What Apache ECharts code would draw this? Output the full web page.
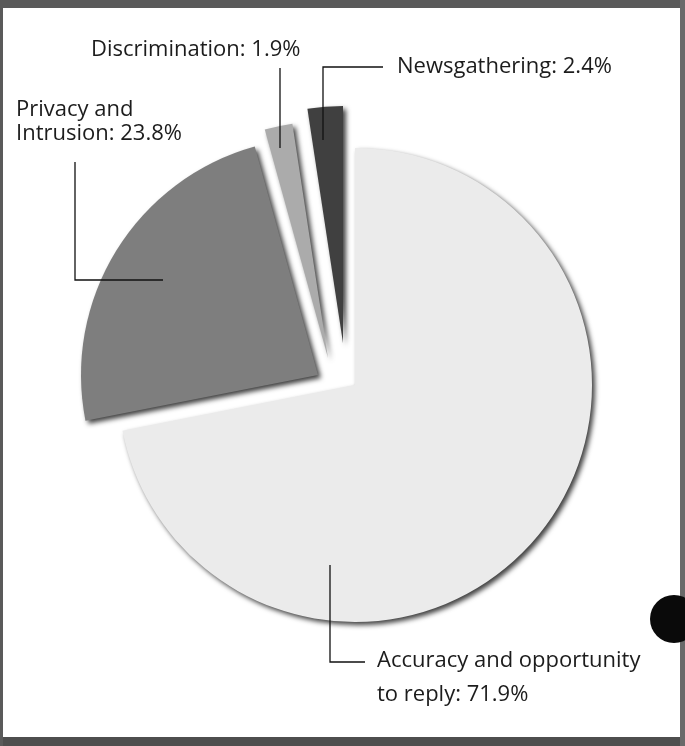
<!DOCTYPE html>
<html>
<head>
<meta charset="utf-8">
<script src="https://cdn.jsdelivr.net/npm/echarts@6/dist/echarts.min.js"></script>
<style>
  html, body { margin: 0; padding: 0; background: #fff; }
  #chart { width: 685px; height: 746px; }
</style>
</head>
<body>
<div id="chart"></div>
<script>
// Complaint categories and their share of the total (percent)
const categories = [
  'Accuracy and opportunity\nto reply',
  'Privacy and\nIntrusion',
  'Discrimination',
  'Newsgathering'
];
const shares = [71.9, 23.8, 1.9, 2.4];

// Fill colour of each slice
const sliceColors = ['#ebebeb', '#7e7e7e', '#ababab', '#404040'];

// Each slice is pulled out of the pie on its own: pixel centre per slice
const sliceCenters = [[355, 385], [318, 375], [328, 358], [343, 343]];
const pieRadius = 237;

// Label anchor (left edge, vertical middle), line height and leader path
const labelAnchors = [[377, 678], [16, 122], [91, 50], [397, 67]];
const labelLineHeights = [34, 24, 24, 24];
const leaderPaths = [
  [[330, 565], [330, 662], [365, 662]],
  [[163, 280], [75, 280], [75, 162]],
  [[280, 148], [280, 68]],
  [[323, 140], [323, 67], [383, 67]]
];

const chart = echarts.init(document.getElementById('chart'), null, { renderer: 'canvas' });

const pieData = categories.map((name, i) => ({ name, value: shares[i] }));

// One pie series per slice: the full dataset keeps the angles right,
// only the slice owned by the series is painted and labelled.
const series = categories.map((_, k) => ({
  type: 'pie',
  silent: true,
  animation: false,
  center: sliceCenters[k],
  radius: [0, pieRadius],
  startAngle: 90,
  clockwise: true,
  avoidLabelOverlap: false,
  z: k === 0 ? 2 : 3,
  labelLine: { show: false },
  labelLayout: {
    x: labelAnchors[k][0],
    y: labelAnchors[k][1],
    align: 'left',
    verticalAlign: 'middle'
  },
  data: pieData.map((d, i) => {
    const own = i === k;
    return {
      name: d.name,
      value: d.value,
      itemStyle: own ? {
        color: sliceColors[i],
        shadowColor: 'rgba(0,0,0,0.75)',
        shadowBlur: 5,
        shadowOffsetX: 3,
        shadowOffsetY: 3
      } : { color: 'rgba(0,0,0,0)' },
      label: own ? {
        show: true,
        formatter: '{b}: {c}%',
        fontFamily: 'Open Sans',
        fontSize: 22,
        color: '#1c1c1c',
        lineHeight: labelLineHeights[i]
      } : { show: false }
    };
  })
}));

// Leader lines sit above the slices they point into
const leaderGraphics = leaderPaths.map(pts => ({
  type: 'polyline',
  z: 20,
  silent: true,
  shape: { points: pts },
  style: { stroke: '#111', lineWidth: 1.3, fill: null }
}));

chart.setOption({
  backgroundColor: '#ffffff',
  animation: false,
  series: series,
  graphic: leaderGraphics.concat([
    // page frame
    { type: 'rect', shape: { x: 0, y: 0, width: 685, height: 8 }, style: { fill: '#5a5a5a' }, silent: true },
    { type: 'rect', shape: { x: 0, y: 737, width: 685, height: 9 }, style: { fill: '#4e4e4e' }, silent: true },
    { type: 'rect', shape: { x: 0, y: 0, width: 3, height: 746 }, style: { fill: '#5a5a5a' }, silent: true },
    { type: 'rect', shape: { x: 680, y: 0, width: 5, height: 746 }, style: { fill: '#6a6a6a' }, silent: true },
    // binder hole
    { type: 'circle', shape: { cx: 674, cy: 619, r: 24 }, style: { fill: '#0a0a0a' }, silent: true }
  ])
});
</script>
</body>
</html>
